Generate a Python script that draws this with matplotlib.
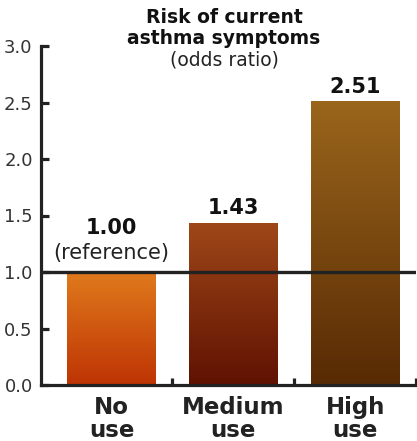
import numpy as np
import matplotlib
matplotlib.use("Agg")
import matplotlib.pyplot as plt
from matplotlib.colors import LinearSegmentedColormap

categories = ["No\nuse", "Medium\nuse", "High\nuse"]
odds = [1.00, 1.43, 2.51]
value_labels = ["1.00", "1.43", "2.51"]
top_colors = ["#E07A1C", "#9E4718", "#9A661C"]
bottom_colors = ["#BE3404", "#601202", "#582A04"]
yticks = [0.0, 0.5, 1.0, 1.5, 2.0, 2.5, 3.0]

W, H = 417, 441
fig = plt.figure(figsize=(W / 100, H / 100), dpi=100)
ax = fig.add_axes([41 / W, (H - 385) / H, (416 - 41) / W, (385 - 46) / H])

ink = "#222222"
bar_w = 0.73
x = np.arange(len(odds))
grad = np.linspace(1, 0, 256).reshape(-1, 1)
for i, v in enumerate(odds):
    cmap = LinearSegmentedColormap.from_list("g%d" % i, [bottom_colors[i], top_colors[i]])
    ax.imshow(grad, cmap=cmap, aspect="auto", interpolation="bicubic",
              extent=(x[i] - bar_w / 2, x[i] + bar_w / 2, 0, v), zorder=2)

ax.set_xlim(-0.58, 2.5)
ax.set_ylim(0, 3.0)

# reference line at odds ratio 1
ax.axhline(1.0, color=ink, lw=2.4, zorder=4, solid_capstyle="butt")

for s in ["top", "right"]:
    ax.spines[s].set_visible(False)
for s in ["left", "bottom"]:
    ax.spines[s].set_linewidth(2.3)
    ax.spines[s].set_color(ink)
    ax.spines[s].set_zorder(5)

ax.set_yticks(yticks)
ax.set_yticklabels(["%.1f" % t for t in yticks], fontsize=13, color="#333333")
ax.tick_params(axis="y", direction="in", length=5.5, width=2.3, color=ink, pad=6)

ax.set_xticks([0.5, 1.5, 2.5])
ax.set_xticklabels([])
ax.tick_params(axis="x", which="major", direction="in", length=5, width=2.3, color=ink)
ax.set_xticks(x, categories, minor=True)
ax.tick_params(axis="x", which="minor", length=0, pad=8)
for lab in ax.get_xticklabels(minor=True):
    lab.set_fontsize(16.5)
    lab.set_fontweight("bold")
    lab.set_color("#222222")
    lab.set_linespacing(1.0)

# value labels
offsets = [38, 9, 8]
for i, v in enumerate(odds):
    ax.annotate(value_labels[i], (x[i], v), xytext=(0, offsets[i] / 100 * 72),
                textcoords="offset points", ha="center", va="baseline",
                fontsize=15, fontweight="bold", color="#111111")
ax.annotate("(reference)", (x[0], odds[0]), xytext=(0, 13 / 100 * 72),
            textcoords="offset points", ha="center", va="baseline",
            fontsize=15, color="#222222")

fig.text(224 / W, 1 - 23 / H, "Risk of current", ha="center", va="baseline",
         fontsize=13.5, fontweight="bold", color="#111111")
fig.text(224 / W, 1 - 44 / H, "asthma symptoms", ha="center", va="baseline",
         fontsize=13.5, fontweight="bold", color="#111111")
fig.text(224 / W, 1 - 65 / H, "(odds ratio)", ha="center", va="baseline",
         fontsize=13.5, color="#222222")

fig.savefig("out.png", dpi=100)
